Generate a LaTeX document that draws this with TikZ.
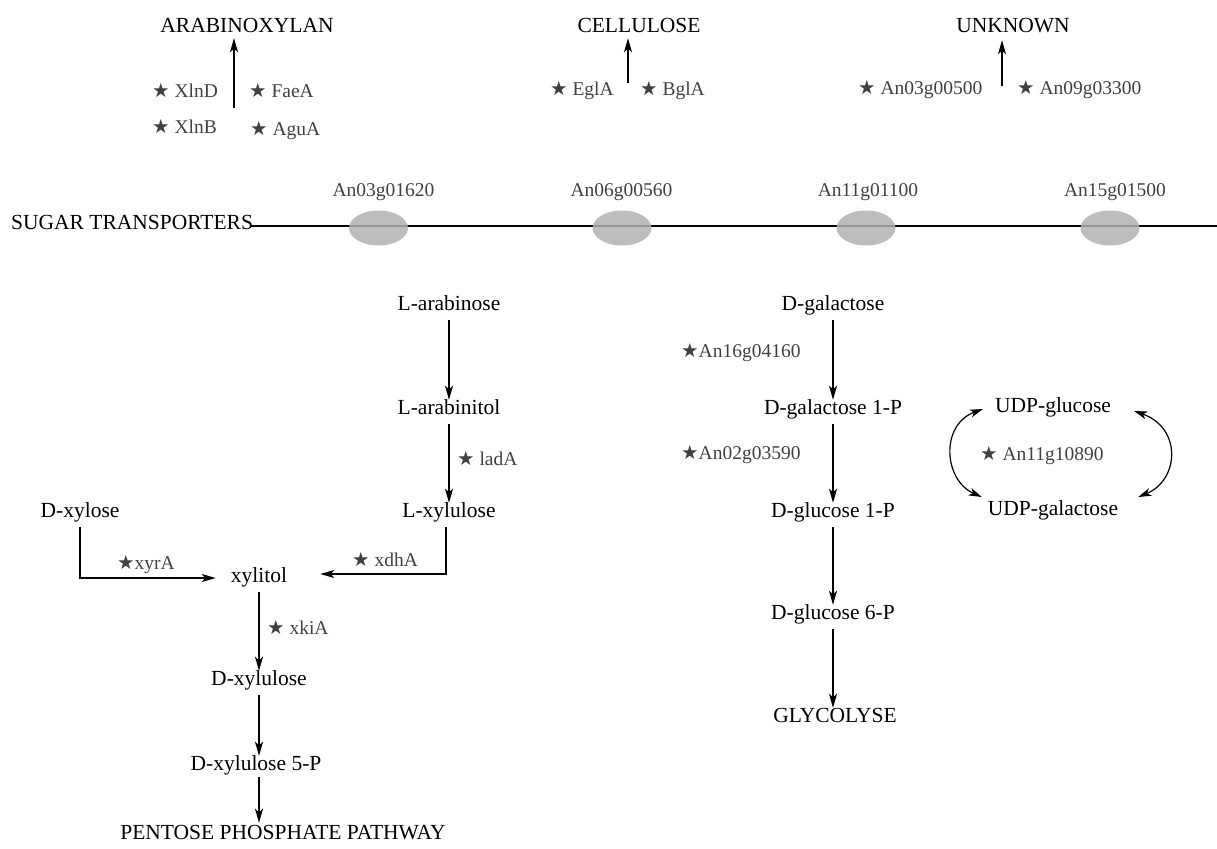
\documentclass[tikz,border=0pt]{standalone}
\usepackage{fontspec}
\setmainfont{Liberation Serif}
\newfontfamily\starfont{DejaVu Sans}
\usepackage{tikz}
\usetikzlibrary{shapes.geometric, arrows.meta}
\newcommand{\enzstar}{{\starfont ★}}

\begin{document}
\begin{tikzpicture}[x=1pt, y=-1pt, main/.style={font=\fontsize{21.5}{25}\selectfont, text height=1.5ex, text depth=.25ex, inner sep=2pt, yshift=-5pt}, gene/.style={font=\fontsize{19.5}{23}\selectfont, text=black!75, text height=1.5ex, text depth=.25ex, inner sep=0pt, anchor=west, yshift=-5pt}, tlabel/.style={font=\fontsize{19.5}{23}\selectfont, text=black!75, yshift=-3pt}, transporter/.style={ellipse, fill=black!30, fill opacity=0.85, minimum width=59pt, minimum height=35pt, inner sep=0pt}, n/.style={-{Stealth[length=14pt, width=8pt, inset=3.5pt]}, line width=1.4pt, shorten <=6pt, shorten >=6pt}, d/.style={{Stealth[length=13pt, width=8pt, inset=3.5pt]}-{Stealth[length=13pt, width=8pt, inset=3.5pt]}, line width=1.2pt}]
        \useasboundingbox (0,0) rectangle (1217,848);
        % polymers
        \node[main] (arabinoxylan) at (247,25) {ARABINOXYLAN};
        \node[main] (cellulose) at (639,25) {CELLULOSE};
        \node[main] (unknown) at (1013,25) {UNKNOWN};
        \node[gene] (XlnD) at (152,90) {\enzstar\ XlnD};
        \node[gene] (FaeA) at (249,90) {\enzstar\ FaeA};
        \node[gene] (XlnB) at (152,126) {\enzstar\ XlnB};
        \node[gene] (AguA) at (250,128) {\enzstar\ AguA};
        \node[gene] (EglA) at (550,88) {\enzstar\ EglA};
        \node[gene] (BglA) at (640,88) {\enzstar\ BglA};
        \node[gene] (An03g00500) at (858,87) {\enzstar\ An03g00500};
        \node[gene] (An09g03300) at (1017,87) {\enzstar\ An09g03300};
        \coordinate (xa) at (234,114);
        \coordinate (xc) at (628,89);
        \coordinate (xu) at (1002,92);
        \draw[n, shorten >=2pt] (xa) -- (xa |- arabinoxylan.south);
        \draw[n, shorten >=2pt] (xc) -- (xc |- cellulose.south);
        \draw[n, shorten >=4pt] (xu) -- (xu |- unknown.south);
        % membrane
        \node[main, anchor=west] (sugartr) at (9,222) {SUGAR TRANSPORTERS};
        \coordinate (mend) at (1217,226);
        \draw[line width=1.4pt] ([xshift=-4pt]sugartr.east |- mend) -- (mend);
        \foreach \name/\x/\lx in {An03g01620/378.5/383.5, An06g00560/622/621.5, An11g01100/866/868, An15g01500/1110/1115} {
            \node[transporter] (t\name) at (\x,228) {};
            \node[tlabel] (l\name) at (\lx,189) {\name};
        }
        % arabinose and xylose
        \node[main] (larabinose) at (449,303) {L-arabinose};
        \node[main] (larabinitol) at (449,407) {L-arabinitol};
        \node[main] (lxylulose) at (449,510) {L-xylulose};
        \node[main] (dxylose) at (80,510) {D-xylose};
        \node[main] (xylitol) at (259,575) {xylitol};
        \node[main] (dxylulose) at (259,678) {D-xylulose};
        \node[main] (dxylulose5p) at (256,763) {D-xylulose 5-P};
        \node[main] (pentose) at (283,832) {PENTOSE PHOSPHATE PATHWAY};
        \node[gene] (ladA) at (457,458) {\enzstar\ ladA};
        \node[gene] (xyrA) at (117,562) {\enzstar xyrA};
        \node[gene] (xdhA) at (352,559) {\enzstar\ xdhA};
        \node[gene] (xkiA) at (267,627) {\enzstar\ xkiA};
        % galactose
        \node[main] (dgalactose) at (833,303) {D-galactose};
        \node[main] (dgal1p) at (833,407) {D-galactose 1-P};
        \node[main] (dglc1p) at (833,510) {D-glucose 1-P};
        \node[main] (dglc6p) at (833,612) {D-glucose 6-P};
        \node[main] (glycolyse) at (835,715) {GLYCOLYSE};
        \node[gene] (An16g04160) at (681,350) {\enzstar An16g04160};
        \node[gene] (An02g03590) at (681,452) {\enzstar An02g03590};
        \node[main] (udpglc) at (1053,405) {UDP-glucose};
        \node[main] (udpgal) at (1053,508) {UDP-galactose};
        \node[gene] (An11g10890) at (980,453) {\enzstar\ An11g10890};
        % edges
        \draw[n] (larabinose) -- (larabinitol);
        \draw[n] (larabinitol) -- (lxylulose);
        \draw[n] (dxylose.south) |- ([xshift=-7pt, yshift=2pt]xylitol.west);
        \draw[n] ([xshift=-3pt]lxylulose.south) |- ([xshift=25pt, yshift=6pt]xylitol.east);
        \draw[n] (xylitol) -- (dxylulose);
        \draw[n] (dxylulose) -- (dxylulose5p.north -| dxylulose);
        \draw[n, shorten <=3pt, shorten >=8pt] (dxylulose5p.south -| dxylulose) -- (pentose.north -| dxylulose);
        \draw[n] (dgalactose) -- (dgal1p);
        \draw[n] (dgal1p) -- (dglc1p);
        \draw[n] (dglc1p) -- (dglc6p);
        \draw[n] (dglc6p) -- (dglc6p |- glycolyse.north);
        \draw[d] ([xshift=-10pt, yshift=1pt]udpglc.west) .. controls +(-43,16) and +(-38,-17) .. ([xshift=-4pt, yshift=16pt]udpgal.west);
        \draw[d] ([xshift=21pt, yshift=-1pt]udpglc.east) .. controls +(48,17) and +(41,-17) .. ([xshift=18pt, yshift=16pt]udpgal.east);
    \end{tikzpicture}
\end{document}
